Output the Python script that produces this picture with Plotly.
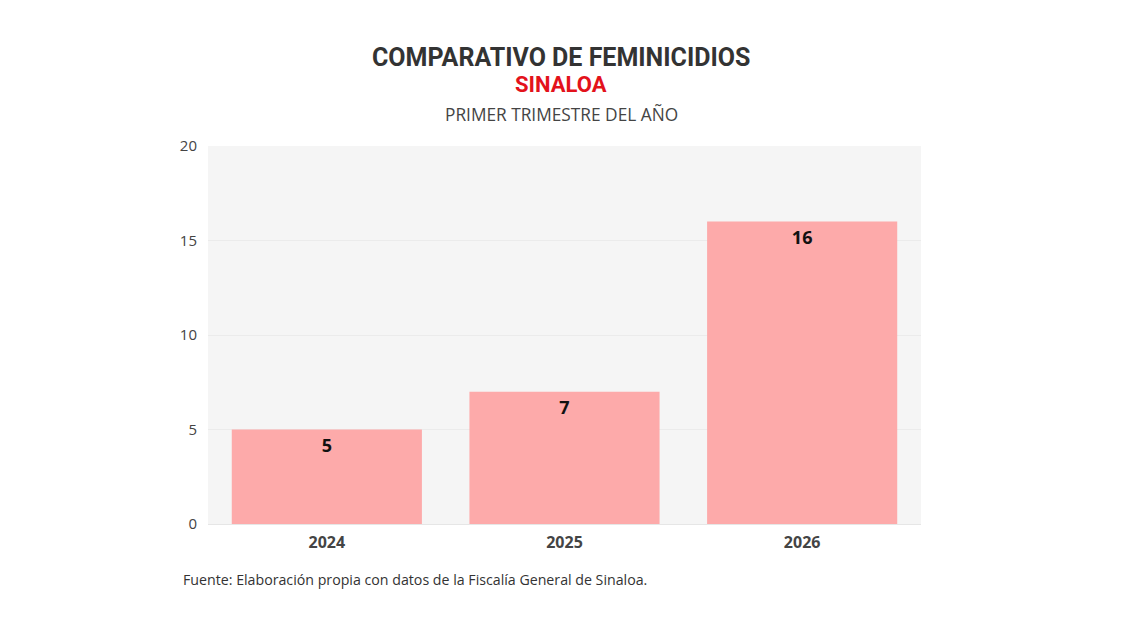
import plotly.graph_objects as go

years = ["2024", "2025", "2026"]
values = [5, 7, 16]
y_ticks = [0, 5, 10, 15, 20]

title = "COMPARATIVO DE FEMINICIDIOS"
state = "SINALOA"
subtitle = "PRIMER TRIMESTRE DEL AÑO"
source = "Fuente: Elaboración propia con datos de la Fiscalía General de Sinaloa."

FONT = "Open Sans"
HFONT = "Roboto"
OFF = 8  # page body offset

L, R, T, B = 208 - OFF, 201 + OFF, 146 - OFF, 106 + OFF
PH = 630 - T - B
PW = 1122 - L - R

fig = go.Figure(go.Bar(
    x=years, y=values,
    marker=dict(color="#fdaaaa", line=dict(width=0)),
    text=[str(v) for v in values],
    textposition="inside",
    insidetextanchor="end",
    textfont=dict(family=FONT, size=18, color="#111111", weight="bold"),
    textangle=0,
    hoverinfo="skip",
))

fig.update_layout(
    width=1122, height=630,
    margin=dict(l=L, r=R, t=T, b=B),
    paper_bgcolor="white",
    plot_bgcolor="#f5f5f5",
    bargap=0.2,
    showlegend=False,
    font=dict(family=FONT, color="#444444"),
)
fig.update_xaxes(
    tickfont=dict(family=FONT, size=16, color="#444444", weight="bold"),
    showgrid=False, showline=False, ticks="", ticklabelstandoff=7,
)
fig.update_yaxes(
    range=[0, 20], tickvals=y_ticks,
    tickfont=dict(family=FONT, size=15, color="#444444"),
    showgrid=True, gridcolor="#ebebeb", gridwidth=1,
    zeroline=True, zerolinecolor="#e6e6e6", zerolinewidth=1,
    ticks="", ticklabelstandoff=10,
)

def py(target):
    # paper y for a target pixel y in the screenshot
    return 1 + (T - (target - OFF)) / PH

def px(target):
    return ((target - OFF) - L) / PW

fig.add_annotation(
    text=f"<b>{title}</b>", xref="paper", x=px(561), yref="paper", y=py(57),
    xanchor="center", yanchor="middle", showarrow=False,
    font=dict(family=HFONT, size=25, color="#333333"),
)
fig.add_annotation(
    text=f"<b>{state}</b>", xref="paper", x=px(561), yref="paper", y=py(84.5),
    xanchor="center", yanchor="middle", showarrow=False,
    font=dict(family=HFONT, size=22, color="#e3121b"),
)
fig.add_annotation(
    text=subtitle, xref="paper", x=px(561), yref="paper", y=py(114),
    xanchor="center", yanchor="middle", showarrow=False,
    font=dict(family=FONT, size=17.3, color="#444444"),
)
fig.add_annotation(
    text=source, xref="paper", x=px(181),
    yref="paper", y=py(579),
    xanchor="left", yanchor="middle", showarrow=False,
    font=dict(family=FONT, size=14.2, color="#333333"),
)

fig.write_html("out.html")
